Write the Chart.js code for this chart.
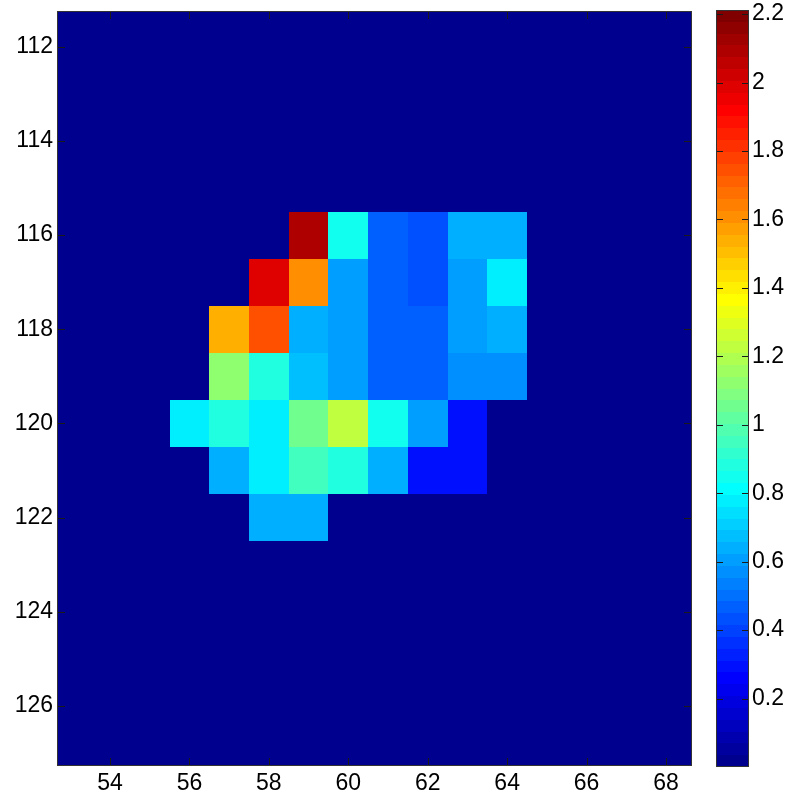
<!DOCTYPE html>
<html>
<head>
<meta charset="utf-8">
<script src="https://cdn.jsdelivr.net/npm/chart.js@4/dist/chart.umd.min.js"></script>
<style>
  html, body { margin: 0; padding: 0; background: #ffffff; }
  #wrap { position: relative; width: 788px; height: 796px; }
  #main { position: absolute; left: 0; top: 0; }
  #cbar { position: absolute; left: 700px; top: 0; }
</style>
</head>
<body>
<div id="wrap">
  <canvas id="main" width="788" height="796"></canvas>
  <canvas id="cbar" width="88" height="796"></canvas>
</div>
<script>
// Columns and rows of the block that holds the non-zero cells
const blockCols = [56, 57, 58, 59, 60, 61, 62, 63, 64];
const blockRows = [116, 117, 118, 119, 120, 121, 122];

// Cell values, one array per row (columns as in blockCols)
const row116 = [0,    0,    0,    2.08, 0.84, 0.46, 0.43, 0.64, 0.64];
const row117 = [0,    0,    1.98, 1.60, 0.60, 0.46, 0.43, 0.60, 0.77];
const row118 = [0,    1.53, 1.74, 0.64, 0.60, 0.46, 0.46, 0.60, 0.64];
const row119 = [0,    1.12, 0.88, 0.67, 0.60, 0.46, 0.46, 0.57, 0.57];
const row120 = [0.77, 0.88, 0.77, 1.05, 1.22, 0.84, 0.60, 0.29, 0];
const row121 = [0,    0.64, 0.77, 0.95, 0.88, 0.64, 0.29, 0.29, 0];
const row122 = [0,    0,    0.64, 0.64, 0,    0,    0,    0,    0];
const blockValues = [row116, row117, row118, row119, row120, row121, row122];

// Full image grid (everything outside the block is zero)
const imageCols = [53, 54, 55, 56, 57, 58, 59, 60, 61, 62, 63, 64, 65, 66, 67, 68, 69];
const imageRows = [111, 112, 113, 114, 115, 116, 117, 118, 119, 120, 121, 122, 123, 124, 125, 126, 127];

// Axis ticks
const xTicks = [54, 56, 58, 60, 62, 64, 66, 68];
const yTicks = [112, 114, 116, 118, 120, 122, 124, 126];
const colorTicks = [0.2, 0.4, 0.6, 0.8, 1, 1.2, 1.4, 1.6, 1.8, 2, 2.2];

// Axis limits and colour limits
const xRange = [52.665, 68.655];
const yRange = [111.242, 127.274];
const colorMin = 0;
const colorMax = 2.212;
const nLevels = 64;

const FONT = { family: '"Liberation Sans", Arial, Helvetica, sans-serif', size: 23 };
const AXIS_COLOR = '#1a1a1a';

// 64-step jet colormap
function jetColor(i) {
  let r = 0, g = 0, b = 0;
  if (i >= 25 && i <= 40) r = (i - 24) / 16; else if (i >= 41 && i <= 55) r = 1; else if (i >= 56) r = (72 - i) / 16;
  if (i >= 9 && i <= 24) g = (i - 8) / 16; else if (i >= 25 && i <= 39) g = 1; else if (i >= 40 && i <= 55) g = (56 - i) / 16;
  if (i <= 8) b = (i + 8) / 16; else if (i <= 23) b = 1; else if (i <= 39) b = (40 - i) / 16;
  return 'rgb(' + Math.round(r * 255) + ',' + Math.round(g * 255) + ',' + Math.round(b * 255) + ')';
}
function colorIndex(v) {
  const i = Math.floor((v - colorMin) / (colorMax - colorMin) * nLevels) + 1;
  return Math.min(nLevels, Math.max(1, i));
}
function valueColor(v) { return jetColor(colorIndex(v)); }

function cellValue(x, y) {
  const ci = blockCols.indexOf(x), ri = blockRows.indexOf(y);
  if (ci < 0 || ri < 0) return 0;
  return blockValues[ri][ci];
}

const cells = [];
imageRows.forEach(y => imageCols.forEach(x => cells.push({ x: x, y: y, v: cellValue(x, y) })));

// Draws each cell as a rectangle one unit wide, positioned by the chart's scales
const cellPlugin = {
  id: 'cells',
  beforeDatasetsDraw(chart) {
    const { ctx, chartArea: a, scales: { x: xs, y: ys } } = chart;
    ctx.save();
    ctx.beginPath();
    ctx.rect(a.left, a.top, a.right - a.left, a.bottom - a.top);
    ctx.clip();
    chart.data.datasets[0].data.forEach(c => {
      const x0 = Math.round(xs.getPixelForValue(c.x - 0.5));
      const x1 = Math.round(xs.getPixelForValue(c.x + 0.5));
      const ya = Math.round(ys.getPixelForValue(c.y - 0.5));
      const yb = Math.round(ys.getPixelForValue(c.y + 0.5));
      ctx.fillStyle = valueColor(c.v);
      ctx.fillRect(Math.min(x0, x1), Math.min(ya, yb), Math.abs(x1 - x0), Math.abs(yb - ya));
    });
    ctx.restore();
  }
};

// Box around the axes with inward tick marks on all four sides
const boxPlugin = {
  id: 'box',
  afterDraw(chart) {
    const { ctx, chartArea: a, scales: { x: xs, y: ys } } = chart;
    const len = 8;
    ctx.save();
    ctx.strokeStyle = AXIS_COLOR;
    ctx.lineWidth = 1;
    ctx.beginPath();
    xTicks.forEach(t => {
      const px = Math.round(xs.getPixelForValue(t)) + 0.5;
      ctx.moveTo(px, a.bottom); ctx.lineTo(px, a.bottom - len);
      ctx.moveTo(px, a.top); ctx.lineTo(px, a.top + len);
    });
    yTicks.forEach(t => {
      const py = Math.round(ys.getPixelForValue(t)) + 0.5;
      ctx.moveTo(a.left, py); ctx.lineTo(a.left + len, py);
      ctx.moveTo(a.right, py); ctx.lineTo(a.right - len, py);
    });
    ctx.stroke();
    ctx.strokeStyle = '#333333';
    ctx.strokeRect(Math.round(a.left) + 0.5, Math.round(a.top) + 0.5,
                   Math.round(a.right - a.left) - 1, Math.round(a.bottom - a.top) - 1);
    ctx.restore();
  }
};

function fixedTicks(values) {
  return scale => { scale.ticks = values.map(v => ({ value: v })); };
}
function noPadding(scale) {
  scale.paddingTop = 0; scale.paddingBottom = 0; scale.paddingLeft = 0; scale.paddingRight = 0;
}

new Chart(document.getElementById('main'), {
  type: 'scatter',
  data: {
    datasets: [{
      label: 'value',
      data: cells,
      pointRadius: 0,
      pointHoverRadius: 0,
      showLine: false
    }]
  },
  options: {
    responsive: false,
    animation: false,
    devicePixelRatio: 1,
    layout: { padding: { top: 11, right: 96, left: 0, bottom: 0 } },
    plugins: { legend: { display: false }, tooltip: { enabled: false } },
    scales: {
      x: {
        type: 'linear',
        min: xRange[0], max: xRange[1],
        grid: { display: false, drawTicks: false },
        border: { display: false },
        afterBuildTicks: fixedTicks(xTicks),
        afterFit(scale) { scale.height = 30; noPadding(scale); },
        ticks: { color: '#000', font: FONT, padding: 4, maxRotation: 0, autoSkip: false,
                 callback: v => String(v) }
      },
      y: {
        type: 'linear',
        reverse: true,
        min: yRange[0], max: yRange[1],
        grid: { display: false, drawTicks: false },
        border: { display: false },
        afterBuildTicks: fixedTicks(yTicks),
        afterFit(scale) { scale.width = 57; noPadding(scale); },
        ticks: { color: '#000', font: FONT, padding: 4, autoSkip: false,
                 callback: v => String(v) }
      }
    }
  },
  plugins: [cellPlugin, boxPlugin]
});

// Colour bar: 64 bands of the colormap along the value axis
const levelStarts = [];
for (let k = 0; k < nLevels; k++) levelStarts.push(colorMin + k * (colorMax - colorMin) / nLevels);

const colorbarPlugin = {
  id: 'colorbar',
  beforeDatasetsDraw(chart) {
    const { ctx, chartArea: a, scales: { y: ys } } = chart;
    const step = (colorMax - colorMin) / nLevels;
    ctx.save();
    levelStarts.forEach((v0, k) => {
      const y0 = Math.round(ys.getPixelForValue(v0));
      const y1 = Math.round(ys.getPixelForValue(v0 + step));
      ctx.fillStyle = jetColor(k + 1);
      ctx.fillRect(a.left, Math.min(y0, y1), a.right - a.left, Math.abs(y0 - y1));
    });
    ctx.restore();
  },
  afterDraw(chart) {
    const { ctx, chartArea: a, scales: { y: ys } } = chart;
    const len = 7;
    ctx.save();
    ctx.strokeStyle = AXIS_COLOR;
    ctx.lineWidth = 1;
    ctx.beginPath();
    colorTicks.forEach(t => {
      const py = Math.round(ys.getPixelForValue(t)) + 0.5;
      ctx.moveTo(a.left, py); ctx.lineTo(a.left + len, py);
      ctx.moveTo(a.right, py); ctx.lineTo(a.right - len, py);
    });
    ctx.stroke();
    ctx.strokeStyle = '#333333';
    ctx.strokeRect(Math.round(a.left) + 0.5, Math.round(a.top) + 0.5,
                   Math.round(a.right - a.left) - 1, Math.round(a.bottom - a.top) - 1);
    ctx.restore();
  }
};

new Chart(document.getElementById('cbar'), {
  type: 'scatter',
  data: { datasets: [{ label: 'levels', data: levelStarts.map(v => ({ x: 0, y: v })), pointRadius: 0, pointHoverRadius: 0 }] },
  options: {
    responsive: false,
    animation: false,
    devicePixelRatio: 1,
    layout: { padding: { top: 10, left: 16, right: 0, bottom: 29 } },
    plugins: { legend: { display: false }, tooltip: { enabled: false } },
    scales: {
      x: { display: false, min: -1, max: 1 },
      y: {
        type: 'linear',
        position: 'right',
        min: colorMin, max: colorMax,
        grid: { display: false, drawTicks: false },
        border: { display: false },
        afterBuildTicks: fixedTicks(colorTicks),
        afterFit(scale) { scale.width = 39; noPadding(scale); },
        ticks: { color: '#000', font: FONT, padding: 3, autoSkip: false,
                 callback: v => String(Math.round(v * 10) / 10) }
      }
    }
  },
  plugins: [colorbarPlugin]
});
</script>
</body>
</html>
